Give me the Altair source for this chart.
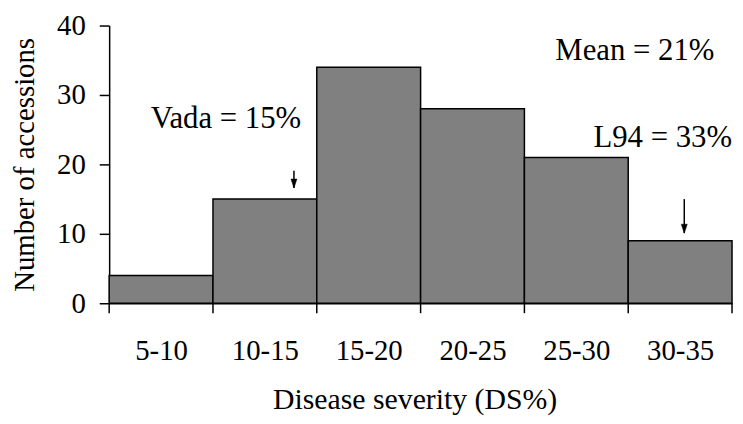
import json
import altair as alt
import pandas as pd

# ---- data ----
categories = ["5-10", "10-15", "15-20", "20-25", "25-30", "30-35"]
bin_start = [5, 10, 15, 20, 25, 30]
bin_end = [10, 15, 20, 25, 30, 35]
counts = [4, 15, 34, 28, 21, 9]
boundaries = [5, 10, 15, 20, 25, 30, 35]

note_text = ["Vada = 15%", "Mean = 21%", "L94 = 33%"]
note_x = [7.0, 34.15, 35.0]
note_y = [25.3, 35.0, 22.5]
note_align = ["left", "right", "right"]

arrow_x = [13.9, 32.7]
arrow_top = [19.1, 15.0]
arrow_tip = [16.6, 10.1]

FONT = "Liberation Serif"
W, H = 628, 280

bars_df = pd.DataFrame({"cat": categories, "start": bin_start, "end": bin_end, "count": counts})
mids = [(a + b) / 2 for a, b in zip(bin_start, bin_end)]
label_map = {f"{m:.1f}": c for m, c in zip(mids, categories)}
label_expr = json.dumps(label_map) + "[format(datum.value, '.1f')]"

xscale = alt.Scale(domain=[5, 35], nice=False, zero=False)
yscale = alt.Scale(domain=[0, 40], nice=False)

x_axis = alt.Axis(values=mids, labelExpr=label_expr, ticks=False, tickSize=0,
                  labelPadding=57, labelBaseline="alphabetic", labelFontSize=29,
                  labelFont=FONT, labelColor="black", grid=False,
                  domainColor="black", domainWidth=1.5,
                  title="Disease severity (DS%)", titleFont=FONT, titleFontSize=30,
                  titleFontWeight="normal", titleColor="black",
                  titleX=308, titleY=106, titleBaseline="alphabetic", titleAlign="center")
y_axis = alt.Axis(values=[0, 10, 20, 30, 40], tickSize=10, tickWidth=1.5, tickColor="black",
                  labelPadding=14, labelFontSize=29, labelFont=FONT, labelColor="black",
                  labelBaseline="middle", grid=False, domainColor="black", domainWidth=1.5,
                  title="Number of accessions", titleFont=FONT, titleFontSize=29,
                  titleFontWeight="normal", titleColor="black",
                  titleAngle=270, titleX=-76, titleY=H / 2,
                  titleBaseline="alphabetic", titleAlign="center")

bars = alt.Chart(bars_df).mark_rect(
    fill="#808080", stroke="black", strokeWidth=1.5
).encode(
    x=alt.X("start:Q", scale=xscale, axis=x_axis),
    x2="end:Q",
    y=alt.Y("count:Q", scale=yscale, axis=y_axis),
    y2=alt.datum(0),
)

ticks_df = pd.DataFrame({"b": boundaries})
xticks = alt.Chart(ticks_df).mark_rule(color="black", strokeWidth=1.5).encode(
    x=alt.X("b:Q", scale=xscale, axis=x_axis),
    y=alt.value(H),
    y2=alt.value(H + 10),
)

notes_df = pd.DataFrame({"t": note_text, "x": note_x, "y": note_y, "a": note_align})
notes = []
for al in ["left", "right"]:
    notes.append(
        alt.Chart(notes_df[notes_df["a"] == al]).mark_text(
            align=al, baseline="alphabetic", font=FONT, fontSize=31, color="black"
        ).encode(
            x=alt.X("x:Q", scale=xscale, axis=x_axis),
            y=alt.Y("y:Q", scale=yscale, axis=y_axis),
            text="t:N",
        )
    )

arrows_df = pd.DataFrame({"x": arrow_x, "top": arrow_top, "tip": arrow_tip})
arrow_lines = alt.Chart(arrows_df).mark_rule(color="black", strokeWidth=1.5).encode(
    x=alt.X("x:Q", scale=xscale, axis=x_axis),
    y=alt.Y("top:Q", scale=yscale, axis=y_axis),
    y2="tip:Q",
)
arrow_heads = alt.Chart(arrows_df).mark_point(
    shape="M -1 -3 L 1 -3 L 0 0 Z", filled=True, fill="black", stroke="black",
    strokeWidth=0.5, size=36, opacity=1
).encode(
    x=alt.X("x:Q", scale=xscale, axis=x_axis),
    y=alt.Y("tip:Q", scale=yscale, axis=y_axis),
)

chart = alt.layer(bars, xticks, *notes, arrow_lines, arrow_heads).properties(
    width=W, height=H,
    background="white",
    padding={"left": 102, "top": 16, "right": 3, "bottom": 112},
    autosize=alt.AutoSizeParams(type="none"),
).configure_view(stroke=None)

chart.save("out.html", embed_options={"renderer": "svg", "actions": False})
